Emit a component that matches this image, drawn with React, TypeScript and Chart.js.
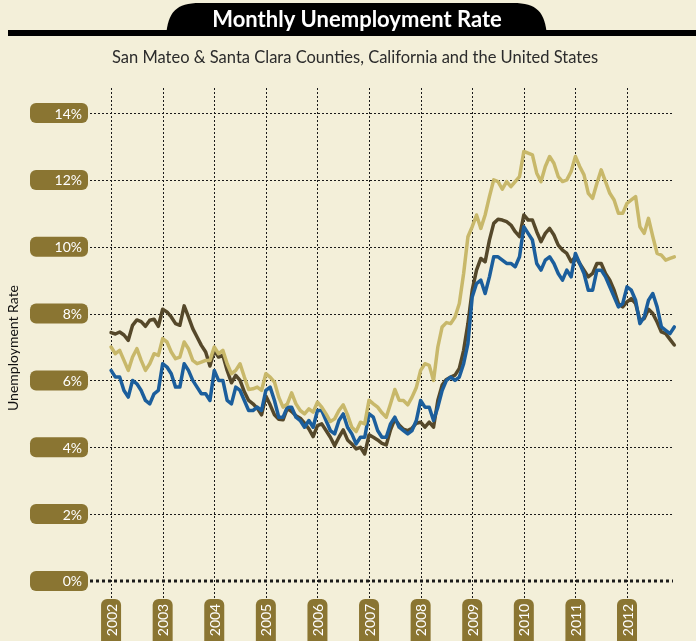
import React, { useEffect, useRef } from "react";
import { Chart, registerables } from "chart.js";

Chart.register(...registerables);

const titleText = "Monthly Unemployment Rate";
const subtitleText = "San Mateo & Santa Clara Counties, California and the United States";
const yAxisTitle = "Unemployment Rate";

const startYear = 2002;
const years = [2002, 2003, 2004, 2005, 2006, 2007, 2008, 2009, 2010, 2011, 2012];
const yTicks = [0, 2, 4, 6, 8, 10, 12, 14];
const yTickLabels = ["0%", "2%", "4%", "6%", "8%", "10%", "12%", "14%"];

// Monthly values Jan 2002 .. Dec 2012
const california = [
  7.0, 6.8, 6.9, 6.6, 6.3, 6.7, 6.95, 6.6, 6.3, 6.5, 6.8, 6.75,
  7.25, 7.15, 6.85, 6.65, 6.7, 7.15, 6.95, 6.6, 6.5, 6.55, 6.6, 6.6,
  7.0, 6.8, 6.9, 6.5, 6.2, 6.3, 6.5, 6.1, 5.73, 5.75, 5.8, 5.7,
  6.2, 6.1, 5.95, 5.5, 5.2, 5.3, 5.63, 5.3, 5.1, 5.0, 5.15, 5.05,
  5.35, 5.2, 5.0, 4.77, 4.85, 5.1, 5.27, 4.97, 4.6, 4.47, 4.75, 4.7,
  5.41, 5.3, 5.2, 5.03, 4.9, 5.3, 5.73, 5.41, 5.4, 5.27, 5.5, 5.79,
  6.3, 6.5, 6.45, 6.0, 7.0, 7.6, 7.73, 7.7, 7.9, 8.3, 9.2, 10.3,
  10.6, 10.95, 10.55, 10.95, 11.5, 12.0, 11.95, 11.72, 11.95, 11.8, 11.95, 12.1,
  12.85, 12.8, 12.75, 12.2, 11.95, 12.4, 12.7, 12.5, 12.1, 11.95, 12.0, 12.25,
  12.7, 12.4, 12.15, 11.6, 11.45, 11.9, 12.3, 11.95, 11.6, 11.4, 11.0, 11.0,
  11.3, 11.4, 11.5, 10.6, 10.4, 10.85, 10.3, 9.8, 9.75, 9.6, 9.65, 9.7,
];

const sanMateoSantaClara = [
  7.43, 7.39, 7.45, 7.36, 7.2, 7.65, 7.81, 7.76, 7.62, 7.8, 7.83, 7.62,
  8.13, 8.05, 7.9, 7.7, 7.65, 8.23, 7.9, 7.55, 7.3, 7.05, 6.85, 6.43,
  6.9, 6.7, 6.75, 6.3, 5.93, 6.15, 6.0, 5.66, 5.4, 5.3, 5.17, 4.97,
  5.53, 5.27, 4.97, 4.84, 4.82, 5.17, 5.07, 4.94, 4.87, 4.72, 4.55, 4.32,
  4.65, 4.7, 4.5, 4.3, 4.05, 4.3, 4.52, 4.22, 4.1, 3.95, 4.0, 3.8,
  4.37, 4.3, 4.22, 4.12, 4.07, 4.52, 4.84, 4.67, 4.54, 4.5, 4.57, 4.72,
  4.75, 4.6, 4.75, 4.6, 5.4, 5.86, 6.03, 6.1, 6.16, 6.36, 6.9, 7.7,
  8.7, 9.3, 9.65, 9.55, 10.2, 10.7, 10.82, 10.8, 10.75, 10.65, 10.45, 10.3,
  10.95, 10.8, 10.8, 10.45, 10.15, 10.4, 10.55, 10.35, 10.05, 9.9, 9.8, 9.55,
  9.7, 9.5, 9.3, 9.1, 9.2, 9.5, 9.5, 9.2, 9.0, 8.7, 8.3, 8.2,
  8.35, 8.45, 8.3, 7.8, 7.85, 8.13, 8.0, 7.75, 7.45, 7.4, 7.23, 7.06,
];

const unitedStates = [
  6.3, 6.1, 6.1, 5.7, 5.5, 6.0, 5.9, 5.7, 5.4, 5.3, 5.6, 5.7,
  6.5, 6.4, 6.2, 5.8, 5.8, 6.5, 6.3, 6.0, 5.8, 5.6, 5.6, 5.4,
  6.3, 6.0, 6.0, 5.4, 5.3, 5.8, 5.7, 5.4, 5.1, 5.1, 5.2, 5.1,
  5.7, 5.8, 5.4, 4.9, 4.9, 5.2, 5.2, 4.9, 4.8, 4.6, 4.8, 4.6,
  5.1, 5.1, 4.8, 4.5, 4.4, 4.8, 5.0, 4.6, 4.4, 4.1, 4.3, 4.3,
  5.0, 4.9, 4.5, 4.3, 4.3, 4.7, 4.9, 4.6, 4.5, 4.4, 4.5, 4.8,
  5.4, 5.2, 5.2, 4.8, 5.2, 5.7, 6.0, 6.1, 6.0, 6.1, 6.5, 7.1,
  8.5, 8.9, 9.0, 8.6, 9.1, 9.7, 9.7, 9.6, 9.5, 9.5, 9.4, 9.7,
  10.6, 10.4, 10.2, 9.5, 9.3, 9.6, 9.7, 9.5, 9.2, 9.0, 9.3, 9.1,
  9.8, 9.5, 9.2, 8.7, 8.7, 9.3, 9.3, 9.1, 8.8, 8.5, 8.2, 8.3,
  8.8, 8.7, 8.4, 7.7, 7.9, 8.4, 8.6, 8.2, 7.6, 7.5, 7.4, 7.6,
];

const BG = "#f3efd9";
const PILL = "#8a7532";
const FONT = "Lato, 'Open Sans', sans-serif";

const toPoints = (vals: number[]) =>
  vals.map((v, i) => ({ x: startYear + i / 12, y: v }));

function pill(ctx: CanvasRenderingContext2D, x: number, y: number, w: number, h: number, r: number) {
  ctx.beginPath();
  ctx.moveTo(x + r, y);
  ctx.lineTo(x + w - r, y);
  ctx.arcTo(x + w, y, x + w, y + r, r);
  ctx.lineTo(x + w, y + h - r);
  ctx.arcTo(x + w, y + h, x + w - r, y + h, r);
  ctx.lineTo(x + r, y + h);
  ctx.arcTo(x, y + h, x, y + h - r, r);
  ctx.lineTo(x, y + r);
  ctx.arcTo(x, y, x + r, y, r);
  ctx.closePath();
}

const decorPlugin = {
  id: "decor",
  beforeDraw(chart: any) {
    const { ctx, width } = chart;
    ctx.save();
    ctx.fillStyle = BG;
    ctx.fillRect(0, 0, width, chart.height);

    // title banner
    ctx.fillStyle = "#000";
    ctx.fillRect(8, 30, width - 8, 6);
    ctx.beginPath();
    ctx.moveTo(166, 36);
    ctx.bezierCurveTo(168, 12, 176, 3, 200, 3);
    ctx.lineTo(513, 3);
    ctx.bezierCurveTo(537, 3, 545, 12, 547, 36);
    ctx.closePath();
    ctx.fill();

    ctx.fillStyle = "#fff";
    ctx.font = `bold 22px ${FONT}`;
    ctx.textAlign = "center";
    ctx.textBaseline = "alphabetic";
    ctx.fillText(titleText, 357, 27);

    ctx.fillStyle = "#2b2b2b";
    ctx.font = `16.5px ${FONT}`;
    ctx.fillText(subtitleText, 355, 63);

    ctx.translate(13, 348);
    ctx.rotate(-Math.PI / 2);
    ctx.font = `14px ${FONT}`;
    ctx.fillStyle = "#111";
    ctx.textBaseline = "middle";
    ctx.fillText(yAxisTitle, 0, 0);
    ctx.restore();
  },
  beforeDatasetsDraw(chart: any) {
    const { ctx, chartArea } = chart;
    const xs = chart.scales.x;
    const ys = chart.scales.y;
    ctx.save();

    // vertical year gridlines
    ctx.strokeStyle = "#1a1a1a";
    ctx.lineWidth = 1;
    ctx.setLineDash([2, 2]);
    years.forEach((yr) => {
      const px = Math.round(xs.getPixelForValue(yr)) + 0.5;
      ctx.beginPath();
      ctx.moveTo(px, chartArea.top);
      ctx.lineTo(px, 600);
      ctx.stroke();
    });

    // horizontal gridlines
    yTicks.forEach((v) => {
      const py = Math.round(ys.getPixelForValue(v));
      ctx.beginPath();
      if (v === 0) {
        ctx.lineWidth = 3;
        ctx.setLineDash([3, 3]);
        ctx.moveTo(chartArea.left, py);
        ctx.lineTo(673, py);
      } else {
        ctx.lineWidth = 1;
        ctx.setLineDash([2, 2]);
        ctx.moveTo(chartArea.left, py + 0.5);
        ctx.lineTo(673, py + 0.5);
      }
      ctx.stroke();
    });
    ctx.setLineDash([]);

    // y pills
    ctx.font = `14px ${FONT}`;
    ctx.textAlign = "right";
    ctx.textBaseline = "middle";
    yTicks.forEach((v, i) => {
      const py = ys.getPixelForValue(v);
      ctx.fillStyle = PILL;
      pill(ctx, 30, py - 10, 58, 20, 6);
      ctx.fill();
      ctx.fillStyle = "#fff";
      ctx.fillText(yTickLabels[i], 82, py + 1);
    });

    // x pills
    ctx.textAlign = "center";
    years.forEach((yr) => {
      const px = xs.getPixelForValue(yr);
      ctx.fillStyle = PILL;
      pill(ctx, px - 10, 599, 20, 60, 6);
      ctx.fill();
      ctx.save();
      ctx.translate(px + 1, 620);
      ctx.rotate(-Math.PI / 2);
      ctx.fillStyle = "#fff";
      ctx.fillText(String(yr), 0, 0);
      ctx.restore();
    });
    ctx.restore();
  },
};

export default function App() {
  const ref = useRef<HTMLCanvasElement | null>(null);
  useEffect(() => {
    if (!ref.current) return;
    const common = {
      borderWidth: 3.5,
      pointRadius: 0,
      tension: 0,
      fill: false,
      clip: false as any,
      borderJoinStyle: "round" as const,
      borderCapStyle: "round" as const,
    };
    const chart = new Chart(ref.current, {
      type: "line",
      data: {
        datasets: [
          { ...common, label: "California", data: toPoints(california), borderColor: "#c8b86a" },
          { ...common, label: "United States", data: toPoints(unitedStates), borderColor: "#1b5e9c" },
          { ...common, label: "San Mateo & Santa Clara Counties", data: toPoints(sanMateoSantaClara), borderColor: "#55482a" },
        ],
      },
      options: {
        responsive: false,
        animation: false,
        devicePixelRatio: 1,
        layout: { padding: { left: 90, right: 21.7, top: 88, bottom: 41 } },
        plugins: { legend: { display: false }, tooltip: { enabled: false }, title: { display: false } },
        scales: {
          x: { type: "linear", display: false, min: startYear - 4.9 / 12, max: 2012 + 11 / 12 },
          y: { type: "linear", display: false, min: -0.57, max: 14.75 },
        },
      },
      plugins: [decorPlugin],
    });
    return () => chart.destroy();
  }, []);
  return (
    <div style={{ position: "fixed", left: 0, top: 0, width: 696, height: 641, background: BG }}>
      <canvas ref={ref} width={696} height={641} style={{ display: "block" }} />
    </div>
  );
}
